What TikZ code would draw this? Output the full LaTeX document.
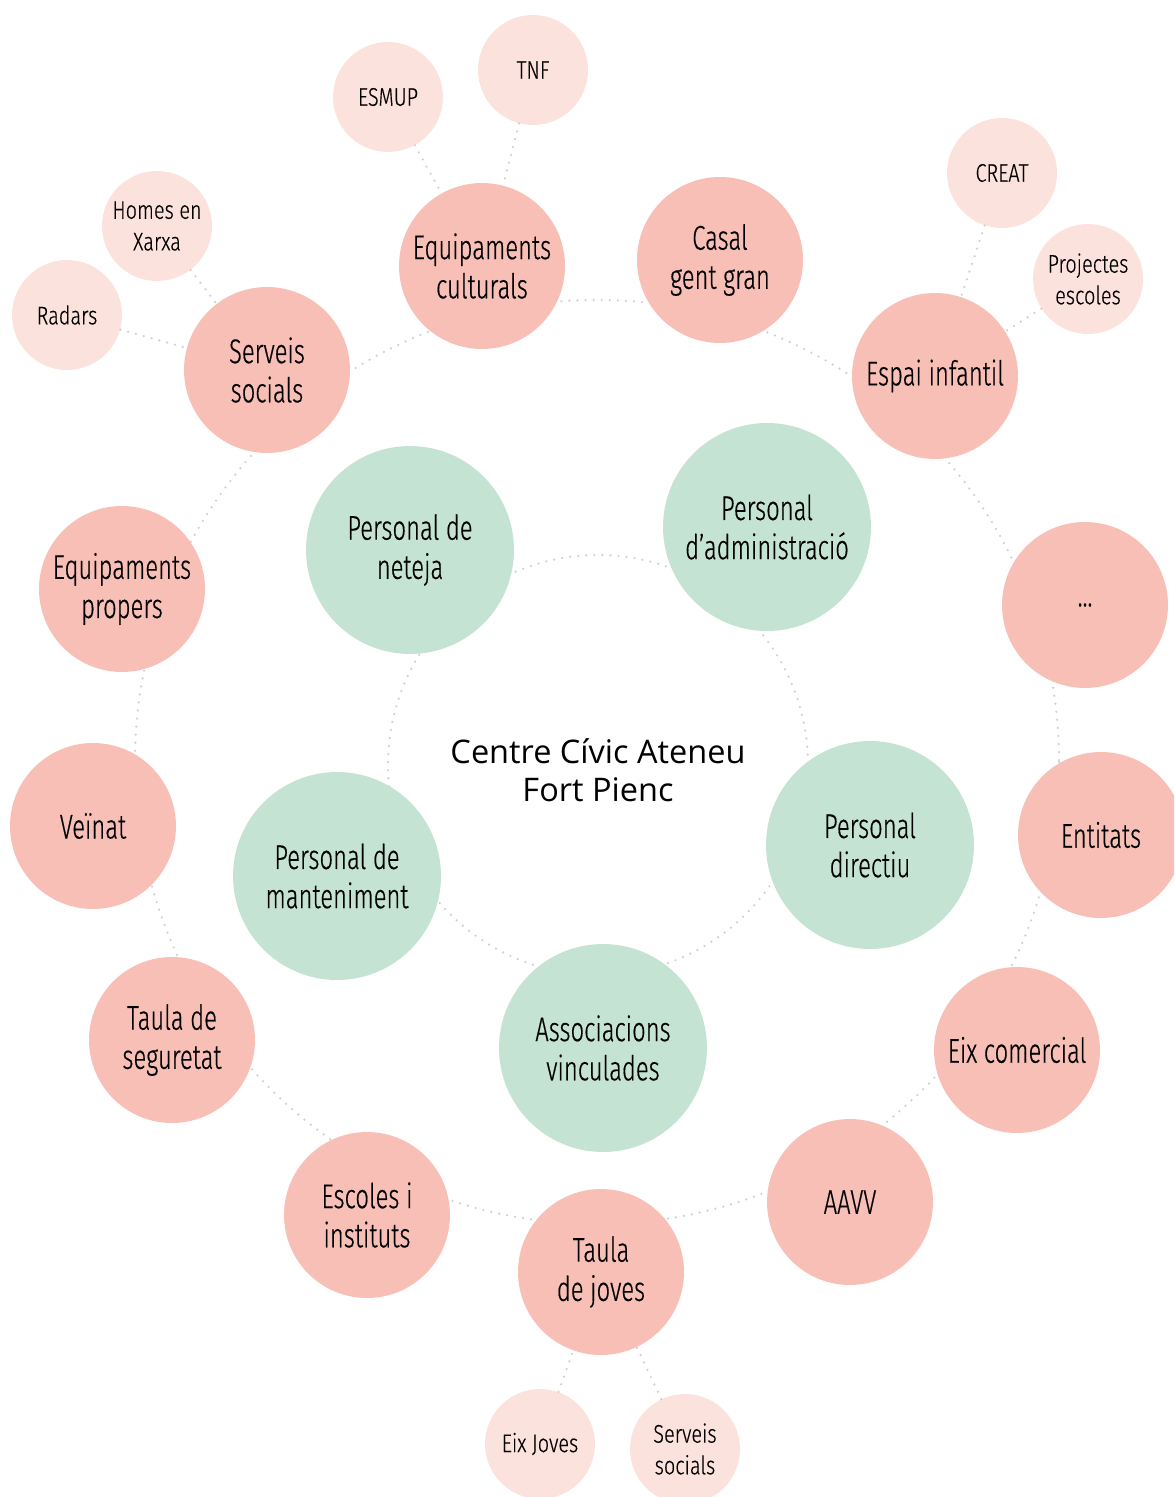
\documentclass[tikz,border=0pt]{standalone}
\usepackage{fontspec}
\setmainfont{Open Sans}
\newfontfamily\nodefont{Fira Sans Light}[FakeStretch=0.695, FakeBold=0.4]
\newfontfamily\satfont{Fira Sans Light}[FakeStretch=0.78, FakeBold=0.3]
\definecolor{hubpink}{HTML}{F8BFB6}
\definecolor{satpink}{HTML}{FCE2DD}
\definecolor{staffgreen}{HTML}{C5E3D3}
\definecolor{dotgray}{HTML}{CFCFCF}
\tikzset{
  ring/.style={draw=dotgray, line width=1.4pt, line cap=round, dash pattern=on 0pt off 4.6pt},
  hub/.style={circle, fill=hubpink, minimum size=3.32cm, inner sep=0pt, align=center,
    font=\nodefont\fontsize{19.5}{22.3}\selectfont},
  sat/.style={circle, fill=satpink, minimum size=2.2cm, inner sep=0pt, align=center,
    font=\satfont\fontsize{14.5}{18}\selectfont},
  staff/.style={hub, fill=staffgreen, minimum size=4.16cm},
}
\begin{document}
\begin{tikzpicture}[x=0.02cm, y=-0.02cm]
        \useasboundingbox (0,0) rectangle (1174,1497);
        \clip (0,0) rectangle (1174,1497);

        % RINGS
        \draw[ring] (598,765) circle (210);
        \draw[ring] (597,762) circle (462);

        % CENTRE
        \node (centre) at (598,770) [align=center, font=\fontsize{18.5}{21.5}\selectfont]
          {Centre Cívic Ateneu\\Fort Pienc};

        % STAFF (inner ring)
        \node[staff] (neteja)   at (410,550)  {Personal de\\neteja};
        \node[staff] (admin)    at (767,527)  {Personal\\d’administració};
        \node[staff] (directiu) at (870,845)  {Personal\\directiu};
        \node[staff] (assoc)    at (603,1048) {Associacions\\vinculades};
        \node[staff] (mant)     at (337,876)  {Personal de\\manteniment};

        % HUBS (outer ring)
        \node[hub] (eqcult)    at (482,266)  {Equipaments\\culturals};
        \node[hub] (casal)     at (720,260)  {Casal\\gent gran};
        \node[hub] (espai)     at (935,376)  {Espai infantil};
        \node[hub] (altres)    at (1085,605) {...};
        \node[hub] (entitats)  at (1101,835) {Entitats};
        \node[hub] (eixcom)    at (1017,1050) {Eix comercial};
        \node[hub] (aavv)      at (850,1202) {AAVV};
        \node[hub] (joves)     at (601,1272) {Taula\\de joves};
        \node[hub] (escoles)   at (367,1215) {Escoles i\\instituts};
        \node[hub] (seguretat) at (172,1040) {Taula de\\seguretat};
        \node[hub] (veinat)    at (93,826)   {Veïnat};
        \node[hub] (eqprop)    at (122,589)  {Equipaments\\propers};
        \node[hub] (sersoc)    at (267,370)  {Serveis\\socials};

        % SATELLITES
        \node[sat] (esmup)     at (388,97)   {ESMUP};
        \node[sat] (tnf)       at (533,70)   {TNF};
        \node[sat] (homes)     at (157,226)  {Homes en\\Xarxa};
        \node[sat] (radars)    at (67,315)   {Radars};
        \node[sat] (creat)     at (1002,173) {CREAT};
        \node[sat] (projectes) at (1088,279) {Projectes\\escoles};
        \node[sat] (eixjoves)  at (540,1444) {Eix Joves};
        \node[sat] (sersocj)   at (685,1449) {Serveis\\socials};

        % LINKS
        \draw[ring] (esmup) -- (eqcult);
        \draw[ring] (tnf) -- (eqcult);
        \draw[ring] (homes) -- (sersoc);
        \draw[ring] (radars) -- (sersoc);
        \draw[ring] (creat) -- (espai);
        \draw[ring] (projectes) -- (espai);
        \draw[ring] (eixjoves) -- (joves);
        \draw[ring] (sersocj) -- (joves);
      \end{tikzpicture}
\end{document}
